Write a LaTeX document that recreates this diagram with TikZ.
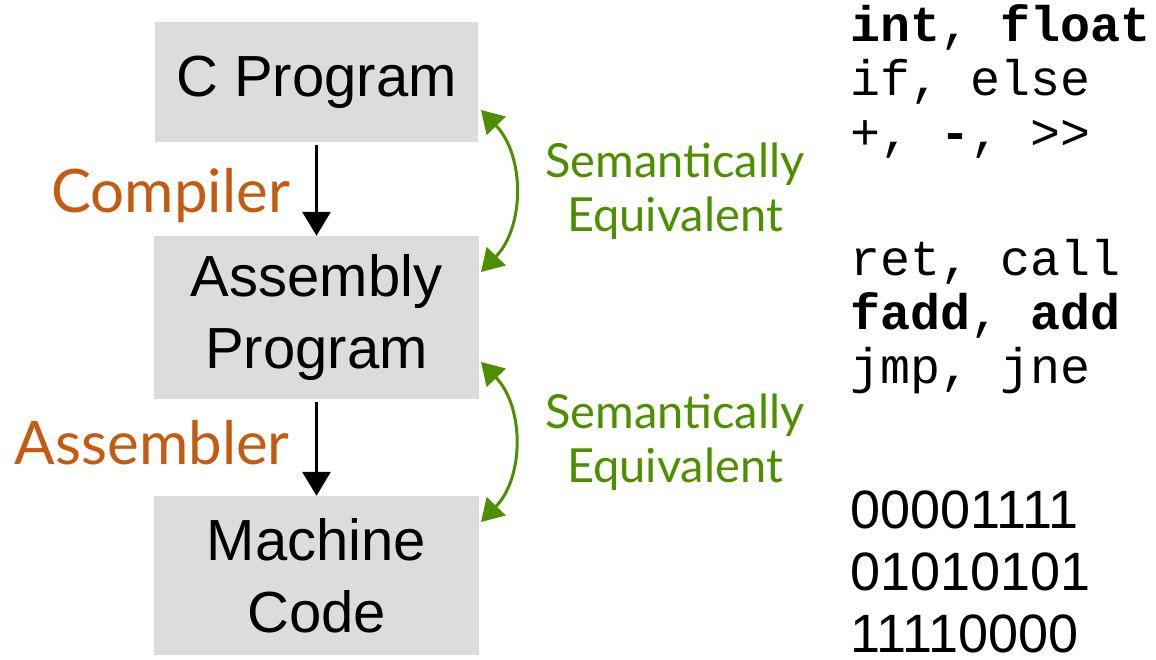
\documentclass[tikz,border=0pt]{standalone}
\usepackage{fontspec}
\setmainfont{Liberation Sans}
\newfontfamily\gillfont{Lato}
\newfontfamily\codefont{Liberation Mono}
\usetikzlibrary{arrows.meta}
\definecolor{boxgray}{RGB}{220,220,220}
\definecolor{orangelbl}{RGB}{197,90,17}
\definecolor{greenlbl}{RGB}{78,143,0}
\tikzset{
  stagebox/.style={fill=boxgray, draw=none, inner sep=0pt, align=center,
    font=\fontsize{58}{72}\selectfont},
  flowarrow/.style={draw=black, line width=3pt,
    -{Triangle[width=28pt,length=24pt]}, shorten <=3pt},
  equivarrow/.style={draw=greenlbl, line width=3pt,
    {Triangle[width=26pt,length=22pt]}-{Triangle[width=26pt,length=22pt]}, bend left=44},
  steplabel/.style={text=orangelbl, font=\gillfont\fontsize{60}{64}\selectfont, inner sep=0pt},
  equivlabel/.style={text=greenlbl, font=\gillfont\fontsize{47}{54}\selectfont, align=center, inner sep=0pt},
  codelbl/.style={font=\codefont\fontsize{50}{54}\selectfont, align=left, inner sep=0pt},
  binlbl/.style={font=\fontsize{54}{62}\selectfont, align=left, inner sep=0pt}
}
\begin{document}
\begin{tikzpicture}[x=1pt,y=-1pt]
\useasboundingbox (0,0) rectangle (1156,660);
\node[stagebox, minimum width=323pt, minimum height=120pt] (cprog) at (316.5,82) {C Program};
\node[stagebox, minimum width=325pt, minimum height=163pt] (asm) at (316.5,317.5) {Assembly\\Program};
\node[stagebox, minimum width=325pt, minimum height=159pt] (mc) at (316.5,575.5) {Machine\\Code};

\draw[flowarrow] (cprog.south) -- (asm.north);
\draw[flowarrow] (asm.south) -- (mc.north);

\node[steplabel, anchor=base east] (compiler) at (290,213) {Compiler};
\node[steplabel, anchor=base east] (assembler) at (290,464) {Assembler};

\coordinate (e1a) at (481,110);
\coordinate (e1b) at (481,272);
\coordinate (e2a) at (481,362);
\coordinate (e2b) at (481,522);
\draw[equivarrow] (e1a) to (e1b);
\draw[equivarrow] (e2a) to (e2b);

\node[equivlabel, anchor=base] (eq1) at (675,232) {Semantically\\Equivalent};
\node[equivlabel, anchor=base] (eq2) at (675,482) {Semantically\\Equivalent};

\node[codelbl, anchor=base west] (ccode) at (850,150) {\textbf{int}, \textbf{float}\\if, else\\+, \textbf{-}, >>};
\node[codelbl, anchor=base west] (acode) at (850,383) {ret, call\\\textbf{fadd}, \textbf{add}\\jmp, jne};
\node[binlbl, anchor=base west] (mcode) at (850,652) {00001111\\01010101\\11110000};
\end{tikzpicture}
\end{document}
